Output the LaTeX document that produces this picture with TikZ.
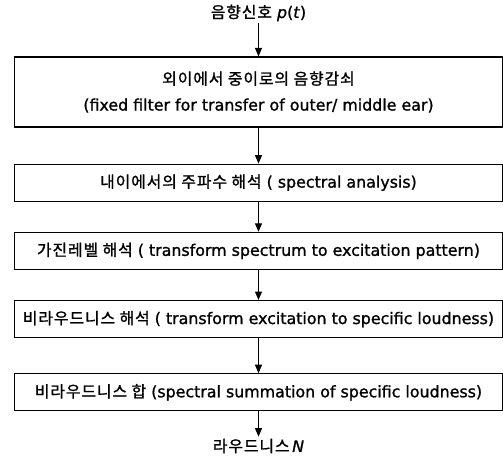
\documentclass[tikz,border=0pt]{standalone}
\usepackage{fontspec}
\setmainfont{DejaVu Sans}[FakeBold=1.2]
\newfontfamily\kr{Noto Sans CJK KR}[FakeBold=1.2, LetterSpace=6]
\usetikzlibrary{positioning, arrows.meta}

\tikzset{
    blk/.style={draw, line width=1.2bp, minimum width=488bp, minimum height=37bp,
        inner sep=0pt, align=center, font=\fontsize{15.9}{19}\selectfont},
    lbl/.style={inner sep=2bp, font=\fontsize{15.9}{19}\selectfont},
    arr/.style={-{Triangle[length=8.5bp,width=7bp]}, line width=1.1bp},
}

\begin{document}
\begin{tikzpicture}[x=1bp, y=-1bp]
    \useasboundingbox (0,0) rectangle (503,464);

    \node [blk, minimum height=70bp] (b1) at (258.5,92)
        {{\kr 외이에서 중이로의 음향감쇠}\\[7bp](fixed filter for transfer of outer/ middle ear)};
    \node [blk, below=36bp of b1] (b2) {{\kr 내이에서의 주파수 해석} ( spectral analysis)};
    \node [blk, below=30bp of b2] (b3) {{\kr 가진레벨 해석} ( transform spectrum to excitation pattern)};
    \node [blk, below=30bp of b3] (b4) {{\kr 비라우드니스 해석} ( transform excitation to specific loudness)};
    \node [blk, below=35bp of b4] (b5) {{\kr 비라우드니스 합} (spectral summation of specific loudness)};

    \node [lbl] (sig) at (258.5,13) {{\kr 음향신호} \textit{p}(\textit{t})};
    \node [lbl] (out) at (258.5,446) {{\kr 라우드니스}\,\textit{N}};

    \draw [arr] (sig) -- (b1);
    \draw [arr] (b1) -- (b2);
    \draw [arr] (b2) -- (b3);
    \draw [arr] (b3) -- (b4);
    \draw [arr] (b4) -- (b5);
    \draw [arr] (b5) -- (out);
\end{tikzpicture}
\end{document}
